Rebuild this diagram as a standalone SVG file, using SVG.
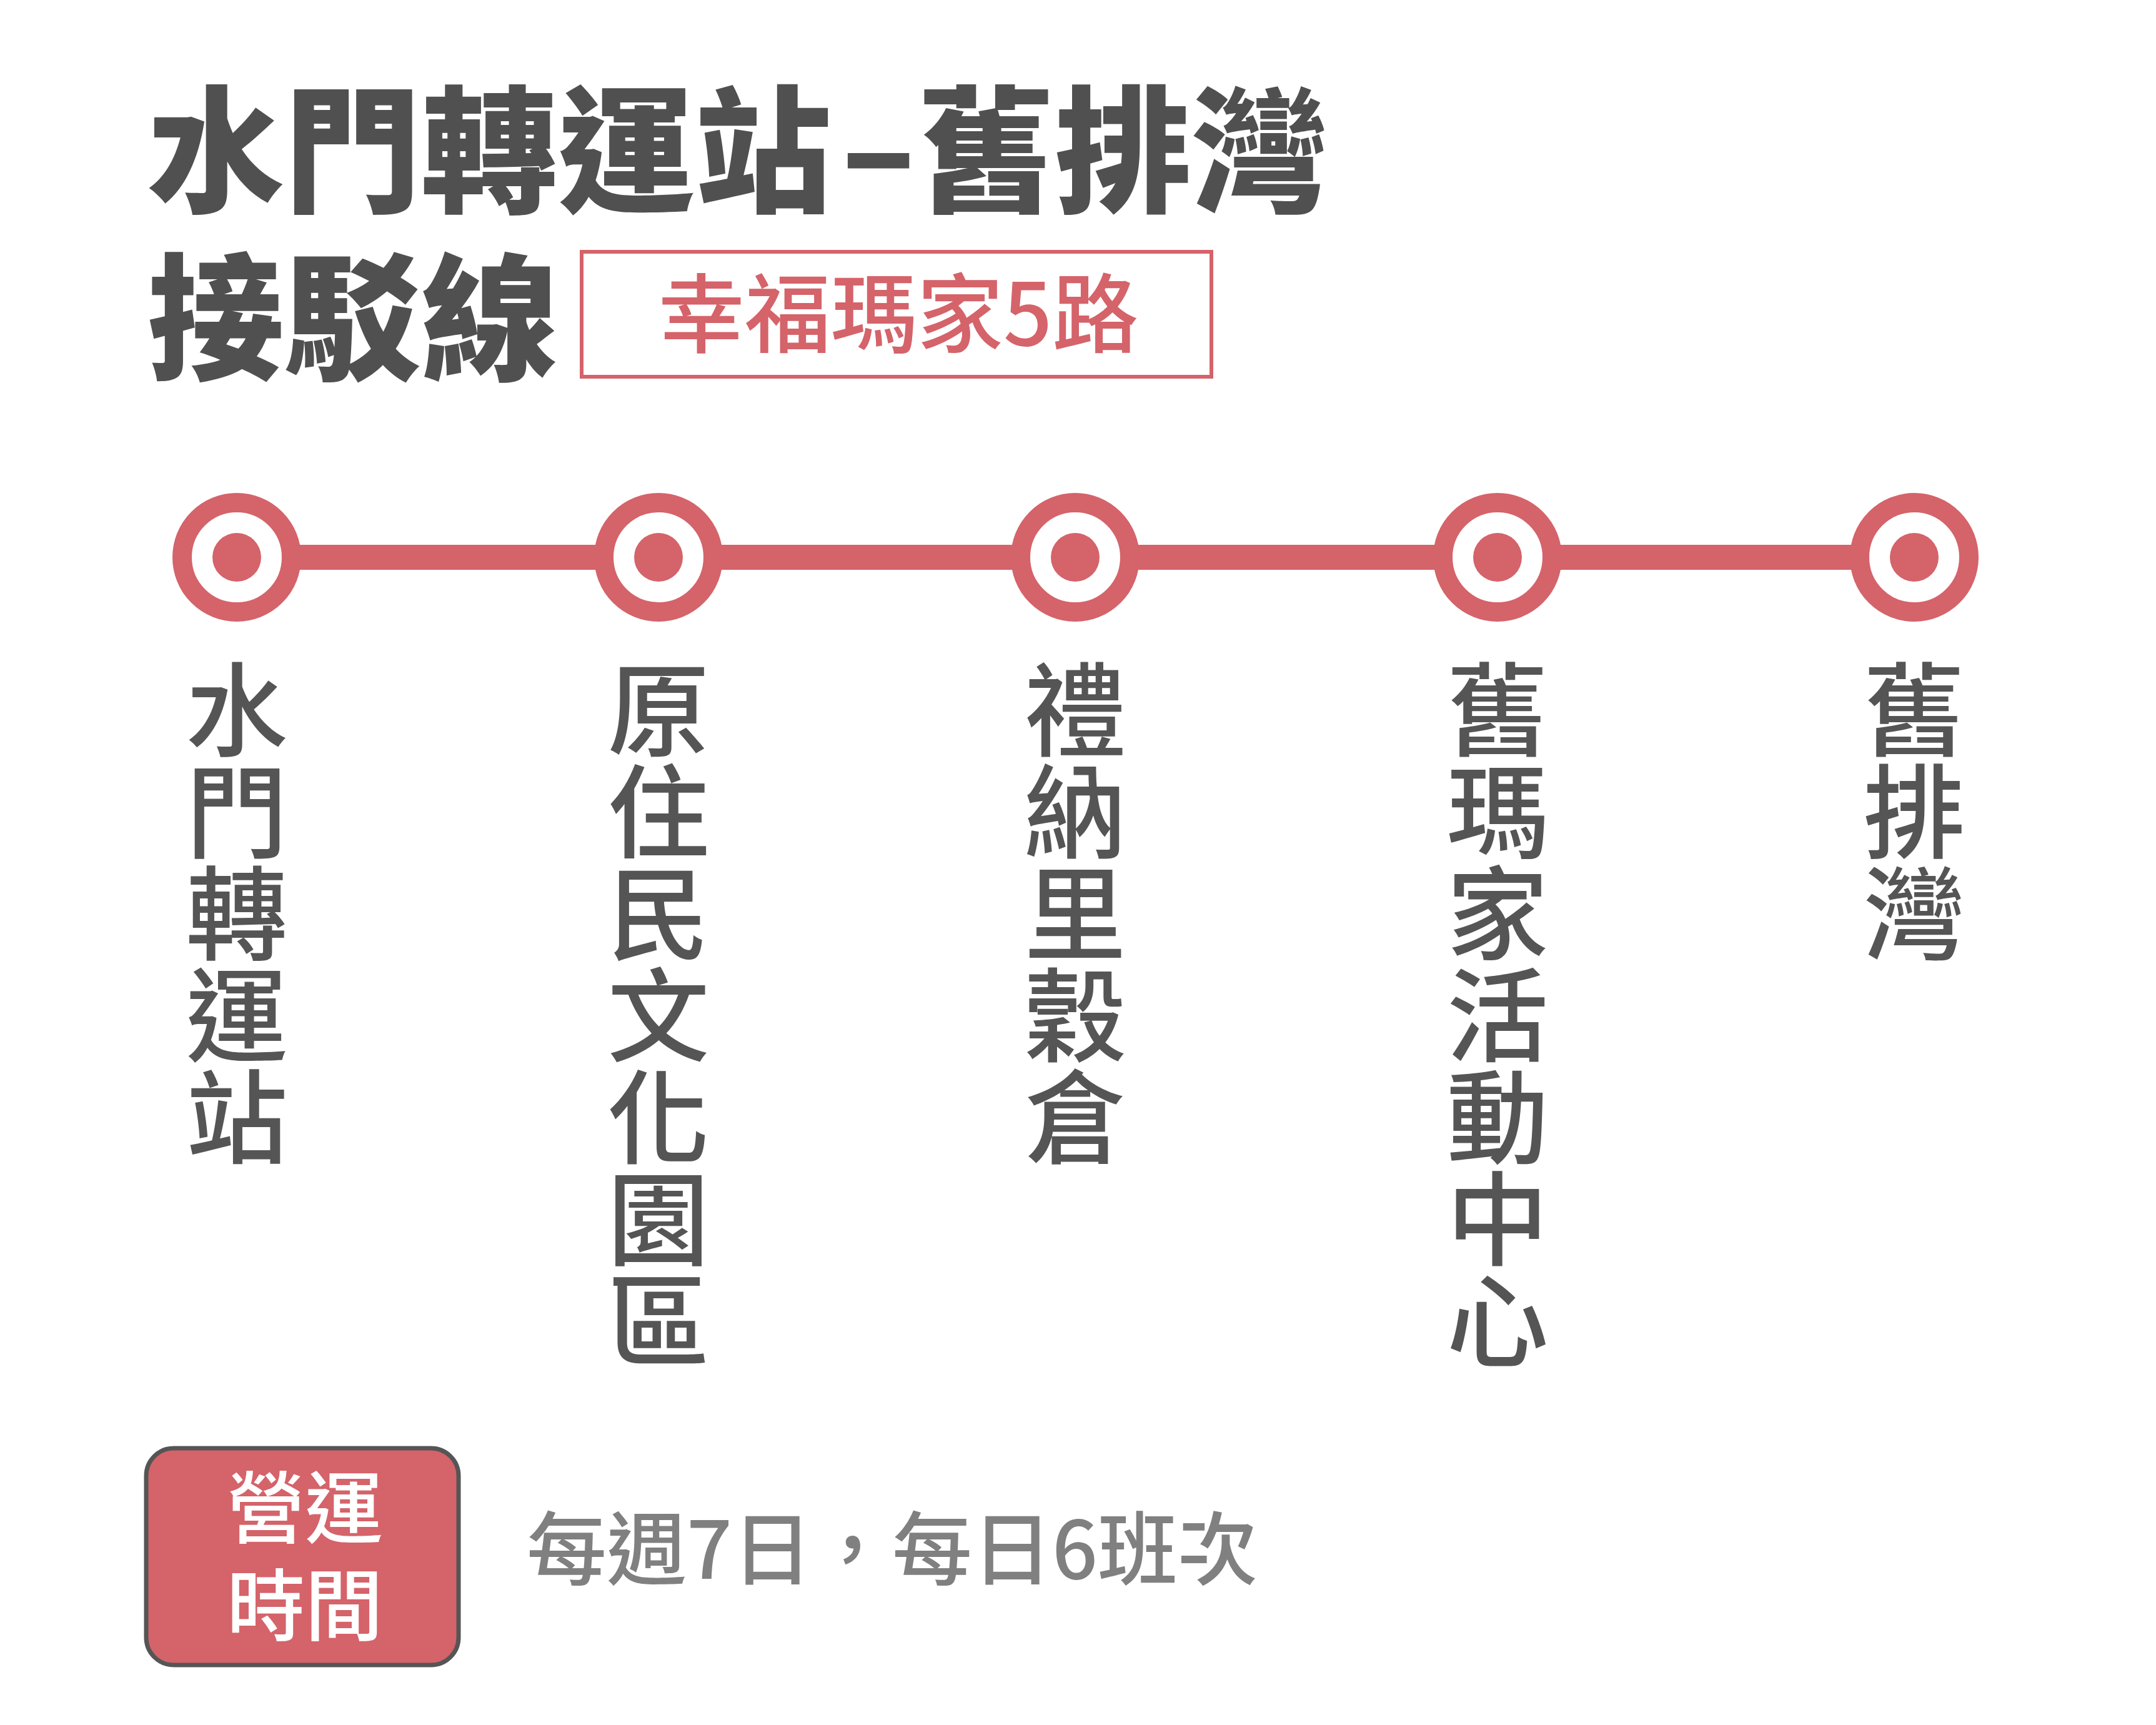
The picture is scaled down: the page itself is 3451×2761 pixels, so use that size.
<svg xmlns="http://www.w3.org/2000/svg" width="3451" height="2761" viewBox="0 0 3451 2761">
<style>
.cjk{font-family:"Noto Sans CJK TC","Noto Sans CJK SC",sans-serif}
.title{font-size:219px;font-weight:900;fill:#505050}
.badge{font-size:138px;font-weight:500;fill:#d5636a}
.stn{font-size:163px;font-weight:500;fill:#555555;writing-mode:vertical-rl;text-orientation:upright}
.ring{fill:#ffffff;stroke:#d5636a;stroke-width:31}
.dot{fill:#d5636a}
.hours{font-size:125px;font-weight:500;fill:#ffffff;text-anchor:middle}
.info{font-size:128px;font-weight:500;fill:#808080}
</style>
<rect width="3451" height="2761" fill="#ffffff"/>
<g id="title">
<text class="cjk title" x="236" y="323">水門轉運站</text>
<text class="cjk title" x="1406" y="321" text-anchor="middle">–</text>
<text class="cjk title" x="1469" y="323">舊排灣</text>
<text class="cjk title" x="236" y="591">接駁線</text>
</g>
<g id="route-badge">
<rect x="931" y="403" width="1008" height="200" fill="none" stroke="#d5636a" stroke-width="6"/>
<text class="cjk badge" x="1438" y="553" text-anchor="middle">幸福瑪家5路</text>
</g>
<g id="connectors">
<line x1="379" y1="892" x2="3064" y2="892" stroke="#d5636a" stroke-width="40"/>
</g>
<g id="station-1">
<circle class="ring" cx="379" cy="892" r="87.5"/><circle class="dot" cx="379" cy="892" r="39"/>
<text class="cjk stn" x="379" y="1054">水門轉運站</text>
</g>
<g id="station-2">
<circle class="ring" cx="1054" cy="892" r="87.5"/><circle class="dot" cx="1054" cy="892" r="39"/>
<text class="cjk stn" x="1054" y="1054">原住民文化園區</text>
</g>
<g id="station-3">
<circle class="ring" cx="1721" cy="892" r="87.5"/><circle class="dot" cx="1721" cy="892" r="39"/>
<text class="cjk stn" x="1721" y="1054">禮納里穀倉</text>
</g>
<g id="station-4">
<circle class="ring" cx="2397" cy="892" r="87.5"/><circle class="dot" cx="2397" cy="892" r="39"/>
<text class="cjk stn" x="2397" y="1054">舊瑪家活動中心</text>
</g>
<g id="station-5">
<circle class="ring" cx="3064" cy="892" r="87.5"/><circle class="dot" cx="3064" cy="892" r="39"/>
<text class="cjk stn" x="3064" y="1054">舊排灣</text>
</g>
<g id="hours-box">
<rect x="234" y="2318" width="500" height="347" rx="44" ry="44" fill="#d5636a" stroke="#555555" stroke-width="7"/>
<text class="cjk hours"><tspan x="488" y="2460">營運</tspan><tspan x="488" y="2616">時間</tspan></text>
</g>
<g id="hours-info">
<text class="cjk info" x="843" y="2527">每週7日，每日6班次</text>
</g>
</svg>
